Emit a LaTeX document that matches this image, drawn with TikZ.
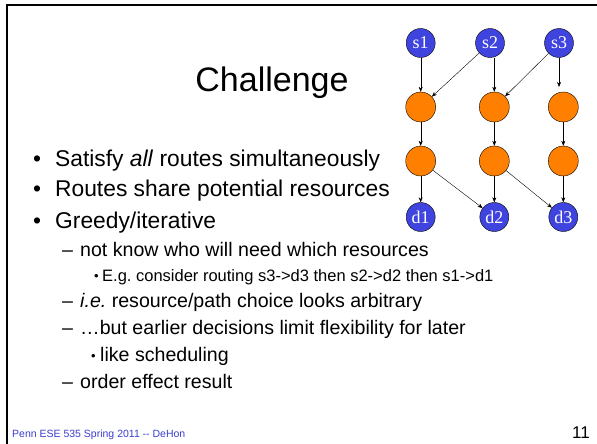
\documentclass[tikz,border=0pt]{standalone}
\usepackage{fontspec}
\setmainfont{Liberation Sans}
\newfontfamily\nodefont{Liberation Serif}
\usetikzlibrary{arrows.meta}
\frenchspacing

\definecolor{termblue}{RGB}{64,68,222}
\definecolor{resorange}{RGB}{255,128,0}
\definecolor{footblue}{RGB}{60,60,210}

\newcommand{\subbullet}{\raisebox{1pt}{\fontsize{13}{13}\selectfont\textbullet}}

\tikzset{
  termnode/.style={shape=circle,draw=black,fill=termblue,text=white,minimum size=29pt,inner sep=0pt,font=\nodefont\fontsize{18}{18}\selectfont},
  resnode/.style={shape=circle,draw=black,fill=resorange,minimum size=30pt,inner sep=0pt},
  textline/.style={anchor=base west,inner sep=0pt},
  big/.style={font=\fontsize{22.8}{22.8}\selectfont},
  mid/.style={font=\fontsize{19.6}{19.6}\selectfont},
  small/.style={font=\fontsize{16.5}{16.5}\selectfont}
}

\begin{document}
\begin{tikzpicture}[x=1pt,y=-1pt,>={Stealth[length=5pt,width=4pt]}]
	\useasboundingbox (0,0) rectangle (597,444);
	
	% slide frame
	\draw[line width=2pt] (7,444) -- (7,5) -- (597,5);
	
	\node[anchor=base,inner sep=0pt,font=\fontsize{34}{34}\selectfont] (title) at (272,92) {Challenge};
	
	\node[termnode] (s1) at (420.7,43) {s1};
	\node[termnode] (s2) at (490,43) {s2};
	\node[termnode] (s3) at (559,43) {s3};
	\node[resnode] (r11) at (420.7,107) {};
	\node[resnode] (r12) at (494.3,107) {};
	\node[resnode] (r13) at (563.3,107) {};
	\node[resnode] (r21) at (420.7,161) {};
	\node[resnode] (r22) at (494.3,161) {};
	\node[resnode] (r23) at (563.3,161) {};
	\node[termnode] (d1) at (420.7,217) {d1};
	\node[termnode] (d2) at (494.3,217) {d2};
	\node[termnode] (d3) at (563.3,217) {d3};
	\coordinate (t3) at (559,87);
	
	\path[->] (s1) edge (r11);
	\path[->] (s2) edge (r11);
	\path[->] (s2.south -| r12) edge (r12);
	\path[->] (s3) edge (r12);
	\path[->] (s3) edge (t3);
	\path[->] (r11) edge (r21);
	\path[->] (r12) edge (r22);
	\path[->] (r13) edge (r23);
	\path[->] (r21) edge (d1);
	\path[->] (r21) edge (d2);
	\path[->] (r22) edge (d2);
	\path[->] (r22) edge (d3);
	\path[->] (r23) edge (d3);
	
	\node[textline,big] (l1) at (33,166) {\makebox[22pt][l]{\textbullet}Satisfy \textit{all} routes simultaneously};
	\node[textline,big] (l2) at (33,196) {\makebox[22pt][l]{\textbullet}Routes share potential resources};
	\node[textline,big] (l3) at (33,228) {\makebox[22pt][l]{\textbullet}Greedy/iterative};
	\node[textline,mid] (l4) at (62,256) {\makebox[18pt][l]{–}not know who will need which resources};
	\node[textline,small] (l5) at (94,281) {\makebox[8pt][l]{\subbullet}E.g. consider routing s3->d3 then s2->d2 then s1->d1};
	\node[textline,mid] (l6) at (62,307) {\makebox[18pt][l]{–}\textit{i.e.} resource/path choice looks arbitrary};
	\node[textline,mid] (l7) at (62,334) {\makebox[18pt][l]{–}…but earlier decisions limit flexibility for later};
	\node[textline,mid] (l8) at (91,361) {\makebox[9pt][l]{\subbullet}like scheduling};
	\node[textline,mid] (l9) at (62,388) {\makebox[18pt][l]{–}order effect result};
	
	\node[textline,font=\fontsize{10.5}{10.5}\selectfont,text=footblue] (foot) at (12,437) {Penn ESE 535 Spring 2011 -{}- DeHon};
	\node[anchor=base east,inner sep=0pt,font=\fontsize{17}{17}\selectfont] (page) at (590,438) {11};
	
\end{tikzpicture}
\end{document}
